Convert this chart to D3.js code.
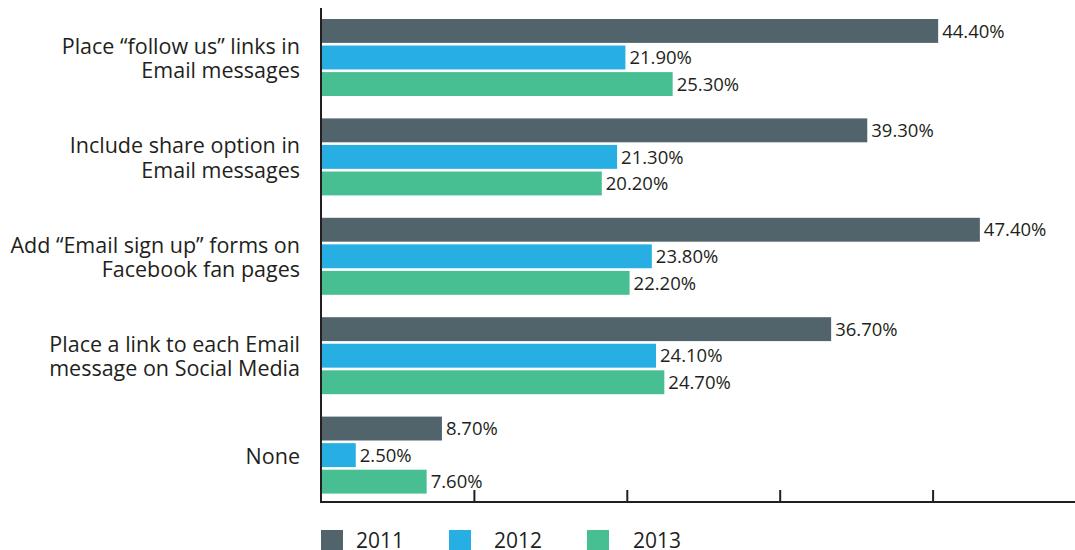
<!DOCTYPE html>
<html lang="en">
<head>
  <meta charset="UTF-8" />
  <title>Social and Email integration</title>
  <script src="https://d3js.org/d3.v7.min.js"></script>
  <style>
    body {
      margin: 0;
      padding: 0;
      background: white;
    }
    svg {
      display: block;
      font-family: "Open Sans", "Noto Sans", sans-serif;
    }
  </style>
</head>
<body>
  <svg id="chart" width="1075" height="550"></svg>

  <script>
    // Data
    const categories = [
      ["Place \u201cfollow us\u201d links in", "Email messages"],
      ["Include share option in", "Email messages"],
      ["Add \u201cEmail sign up\u201d forms on", "Facebook fan pages"],
      ["Place a link to each Email", "message on Social Media"],
      ["None"]
    ];
    const years = ["2011", "2012", "2013"];
    const values2011 = [44.4, 39.3, 47.4, 36.7, 8.7];
    const values2012 = [21.9, 21.3, 23.8, 24.1, 2.5];
    const values2013 = [25.3, 20.2, 22.2, 24.7, 7.6];
    const tickValues = [11, 22, 33, 44];

    const seriesValues = [values2011, values2012, values2013];
    const colors = d3.scaleOrdinal().domain(years).range(["#51646c", "#27aee3", "#48bf93"]);

    const svg = d3.select("#chart");
    const axisX = 321;
    const axisBottom = 502;

    const x = d3.scaleLinear()
      .domain([0, 754 / 13.9])
      .range([axisX, 1075]);

    const y = d3.scaleBand()
      .domain(d3.range(categories.length))
      .range([19, 516])
      .padding(0);

    const ySub = d3.scaleBand()
      .domain(years)
      .range([0, 77])
      .paddingInner(0.1);

    const rows = [];
    categories.forEach((c, i) => {
      years.forEach((yr, j) => {
        rows.push({ cat: i, year: yr, value: seriesValues[j][i] });
      });
    });

    // bars
    svg.append("g")
      .selectAll("rect")
      .data(rows)
      .enter()
      .append("rect")
      .attr("x", x(0))
      .attr("y", d => y(d.cat) + ySub(d.year))
      .attr("width", d => x(d.value) - x(0))
      .attr("height", ySub.bandwidth())
      .attr("fill", d => colors(d.year));

    // value labels
    svg.append("g")
      .selectAll("text")
      .data(rows)
      .enter()
      .append("text")
      .attr("x", d => x(d.value) + 4)
      .attr("y", d => y(d.cat) + ySub(d.year) + ySub.bandwidth() / 2)
      .attr("dy", "0.36em")
      .attr("fill", "#231f20")
      .style("font-size", "18.5px")
      .text(d => d.value.toFixed(2) + "%");

    // category labels
    const labels = svg.append("g")
      .selectAll("text")
      .data(categories)
      .enter()
      .append("text")
      .attr("text-anchor", "end")
      .attr("fill", "#231f20")
      .style("font-size", "21.5px");

    labels.each(function(lines, i) {
      const mid = y(i) + 39.5;
      const lh = 24.5;
      const start = mid - (lines.length - 1) * lh / 2;
      d3.select(this).selectAll("tspan")
        .data(lines)
        .enter()
        .append("tspan")
        .attr("x", 300)
        .attr("y", (d, k) => start + k * lh)
        .attr("dy", "0.35em")
        .text(d => d);
    });

    // axes
    svg.append("line")
      .attr("x1", axisX).attr("x2", axisX)
      .attr("y1", 8).attr("y2", axisBottom)
      .attr("stroke", "#231f20")
      .attr("stroke-width", 2);

    const xAxis = d3.axisTop(x)
      .tickValues(tickValues)
      .tickSize(12)
      .tickFormat("");

    const gx = svg.append("g")
      .attr("transform", `translate(0,${axisBottom})`)
      .call(xAxis);
    gx.select(".domain").remove();
    gx.selectAll(".tick line").attr("stroke", "#231f20").attr("stroke-width", 2);

    svg.append("line")
      .attr("x1", axisX - 1).attr("x2", 1075)
      .attr("y1", axisBottom).attr("y2", axisBottom)
      .attr("stroke", "#231f20")
      .attr("stroke-width", 2);

    // legend
    const legendX = [321, 449, 587];
    const legendTextX = [356, 494, 633];
    const legend = svg.append("g")
      .selectAll("g")
      .data(years)
      .enter()
      .append("g");

    legend.append("rect")
      .attr("x", (d, i) => legendX[i])
      .attr("y", 530)
      .attr("width", 22)
      .attr("height", 21)
      .attr("fill", d => colors(d));

    legend.append("text")
      .attr("x", (d, i) => legendTextX[i])
      .attr("y", 548)
      .attr("fill", "#231f20")
      .style("font-size", "21px")
      .text(d => d);
  </script>
</body>
</html>
